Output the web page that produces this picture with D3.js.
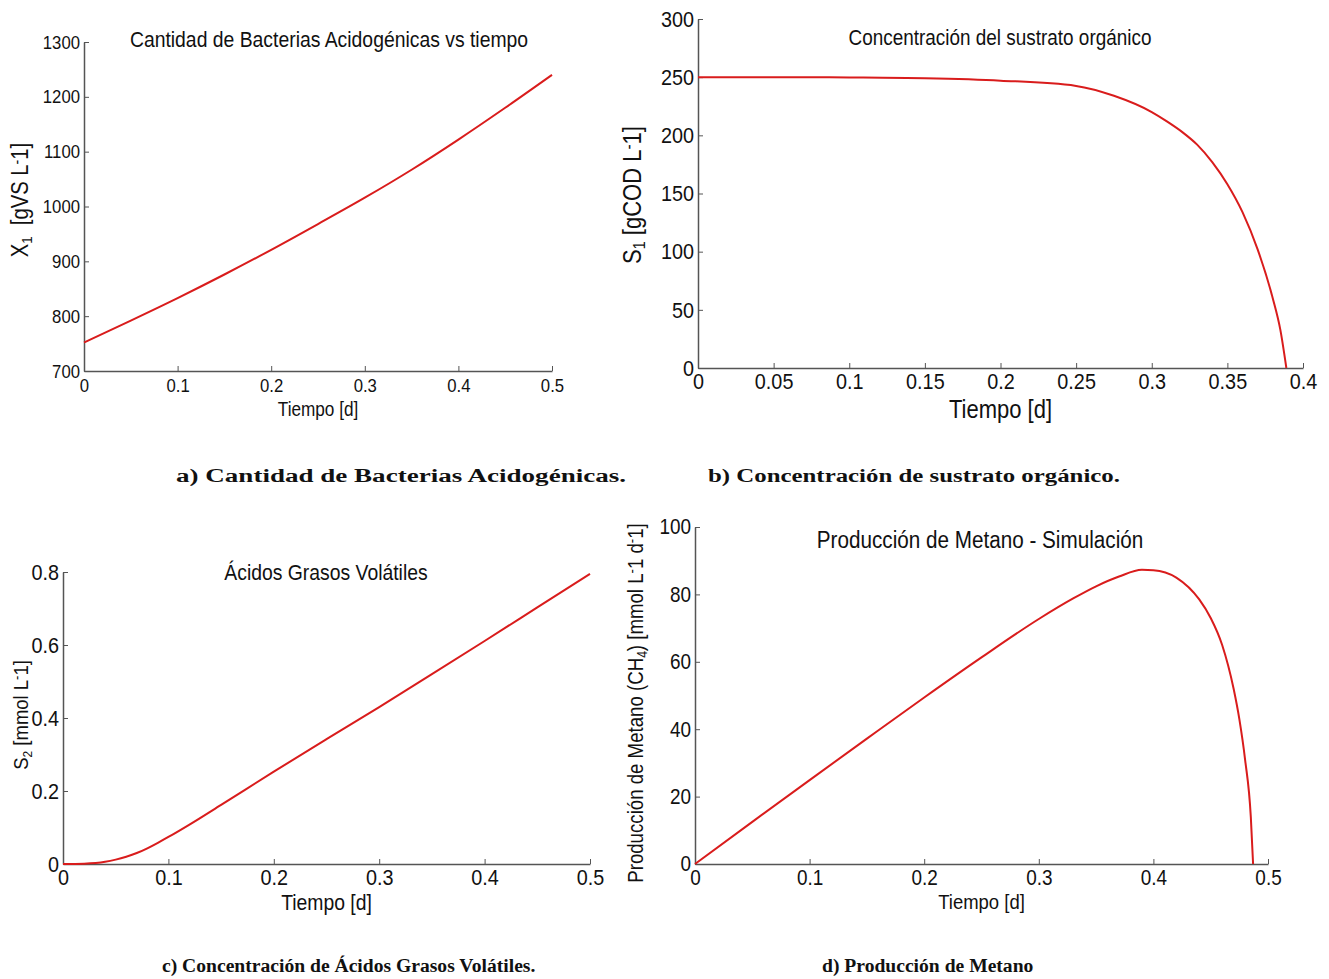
<!DOCTYPE html>
<html>
<head>
<meta charset="utf-8">
<script src="https://cdn.jsdelivr.net/npm/d3@7"></script>
<style>
  body { margin: 0; background: #fff; }
  svg text { font-family: "Liberation Sans", Arial, sans-serif; fill: #111; }
  .caption { font-family: "Liberation Serif", "Times New Roman", serif; font-weight: bold; font-size: 19.6px; }
</style>
</head>
<body>
<div id="graphic"></div>
<script>
// data
// a) acidogenic bacteria X1
const tA = [0, 0.05, 0.1, 0.15, 0.2, 0.25, 0.3, 0.35, 0.4, 0.45, 0.5];
const xA = [752, 792, 833, 876, 921, 968, 1016, 1067, 1122, 1180, 1240];
// b) organic substrate S1
const tB = [0, 0.05, 0.1, 0.15, 0.2, 0.25, 0.275, 0.3, 0.31, 0.32, 0.33, 0.34, 0.35, 0.36, 0.37, 0.38, 0.385, 0.389];
const sB = [250, 250, 249.7, 249, 247, 242.5, 234, 220, 212, 203, 192, 177, 158, 134, 102, 60, 33, 0];
// c) volatile fatty acids S2
const tC = [0, 0.02, 0.04, 0.05, 0.06, 0.07, 0.08, 0.09, 0.1, 0.12, 0.15, 0.2, 0.25, 0.3, 0.35, 0.4, 0.45, 0.5];
const sC = [0, 0.001, 0.006, 0.012, 0.02, 0.03, 0.043, 0.058, 0.074, 0.108, 0.162, 0.253, 0.342, 0.43, 0.52, 0.611, 0.703, 0.795];
// d) methane production
const tD = [0, 0.05, 0.1, 0.15, 0.2, 0.25, 0.3, 0.33, 0.35, 0.37, 0.39, 0.4, 0.42, 0.44, 0.45, 0.46, 0.47, 0.475, 0.48, 0.485, 0.487];
const mD = [0, 12.5, 24.9, 37.2, 49.4, 61.3, 72.7, 78.8, 82.4, 85.3, 87.3, 87.2, 85, 78.5, 73, 65, 52, 43, 31, 14, 0];

const ticksA = [700, 800, 900, 1000, 1100, 1200, 1300];
const ticksB = [0, 50, 100, 150, 200, 250, 300];
const ticksC = [0, 0.2, 0.4, 0.6, 0.8];
const ticksD = [0, 20, 40, 60, 80, 100];

const svg = d3.select("#graphic")
    .append("svg")
    .attr("width", 1329)
    .attr("height", 979);

const red = "#d91c1c";
const condense = 0.88; // the figure text is a bit narrow

function drawPanel(p) {
    const x = d3.scaleLinear().domain(p.xDomain).range([p.left, p.right]);
    const y = d3.scaleLinear().domain(p.yDomain).range([p.bottom, p.top]);
    const g = svg.append("g").attr("class", "panel");

    // x axis (MATLAB style, ticks pointing inward)
    g.append("g")
        .attr("transform", `translate(0, ${p.bottom})`)
        .call(d3.axisBottom(x).tickValues(p.xTicks).tickSizeInner(-5).tickSizeOuter(0)
            .tickPadding(p.tickPad).tickFormat(d => d3.format("~g")(d)))
        .call(a => a.select(".domain").attr("stroke", "#555").attr("stroke-width", 1.5))
        .call(a => a.selectAll("line").attr("stroke", "#555"))
        .call(a => a.selectAll("text").style("font-size", p.tickFont + "px").attr("fill", "#111"));

    g.append("g")
        .attr("transform", `translate(${p.left}, 0)`)
        .call(d3.axisLeft(y).tickValues(p.yTicks).tickSizeInner(-5).tickSizeOuter(0)
            .tickPadding(4).tickFormat(d => d3.format("~g")(d)))
        .call(a => a.select(".domain").attr("stroke", "#555").attr("stroke-width", 1.5))
        .call(a => a.selectAll("line").attr("stroke", "#555"))
        .call(a => a.selectAll("text").style("font-size", p.tickFont + "px").attr("fill", "#111"));

    g.append("path")
        .datum(p.xs.map((d, i) => [d, p.ys[i]]))
        .attr("fill", "none")
        .attr("stroke", red)
        .attr("stroke-width", 2)
        .attr("d", d3.line()
            .x(d => x(d[0]))
            .y(d => y(d[1]))
            .curve(d3.curveMonotoneX));

    // title inside the axes
    g.append("text")
        .attr("x", p.titleX)
        .attr("y", p.titleY)
        .attr("text-anchor", "middle")
        .style("font-size", p.titleFont + "px")
        .text(p.title);

    g.append("text")
        .attr("x", (p.left + p.right) / 2)
        .attr("y", p.xLabelY)
        .attr("text-anchor", "middle")
        .style("font-size", p.xLabelFont + "px")
        .text("Tiempo [d]");

    // rotated y label with sub / superscripts
    const yl = g.append("text")
        .attr("transform", `translate(${p.yLabelX}, ${p.yLabelY}) rotate(-90)`)
        .attr("text-anchor", "middle")
        .style("white-space", "pre")
        .style("font-size", p.yLabelFont + "px");
    p.yLabel.forEach(part => {
        const ts = yl.append("tspan").text(part.t);
        if (part.sub) ts.attr("dy", 4).style("font-size", (p.yLabelFont * 0.65) + "px");
        if (part.back) ts.attr("dy", part.back);
        if (part.sup) ts.attr("dy", -6).style("font-size", (p.yLabelFont * 0.7) + "px");
    });

    const cap = svg.append("text")
        .attr("class", "caption")
        .attr("x", p.capX)
        .attr("y", p.capY)
        .text(p.caption);
    // the top caption line comes out wider in the document
    if (p.capWidth) cap.attr("textLength", p.capWidth).attr("lengthAdjust", "spacingAndGlyphs");
}

drawPanel({
    xDomain: [0, 0.5], yDomain: [700, 1300], left: 84, right: 552, top: 42, bottom: 371,
    xTicks: [0, 0.1, 0.2, 0.3, 0.4, 0.5], yTicks: ticksA, xs: tA, ys: xA, tickFont: 19, tickPad: 8,
    title: "Cantidad de Bacterias Acidogénicas vs tiempo", titleX: 329, titleY: 47, titleFont: 22,
    xLabelY: 416, xLabelFont: 19.5,
    yLabel: [{t: "X"}, {t: "1", sub: true}, {t: "  [gVS L", back: -4}, {t: "-", sup: true}, {t: "1]", back: 6}],
    yLabelX: 28, yLabelY: 200, yLabelFont: 23,
    caption: "a) Cantidad de Bacterias Acidogénicas.", capX: 176, capY: 482, capWidth: 450
});

drawPanel({
    xDomain: [0, 0.4], yDomain: [0, 300], left: 698, right: 1303, top: 19, bottom: 368,
    xTicks: [0, 0.05, 0.1, 0.15, 0.2, 0.25, 0.3, 0.35, 0.4], yTicks: ticksB, xs: tB, ys: sB, tickFont: 22.5, tickPad: 5,
    title: "Concentración del sustrato orgánico", titleX: 1000, titleY: 45, titleFont: 21.5,
    xLabelY: 418, xLabelFont: 25,
    yLabel: [{t: "S"}, {t: "1", sub: true}, {t: " [gCOD L", back: -4}, {t: "-", sup: true}, {t: "1]", back: 6}],
    yLabelX: 641, yLabelY: 195, yLabelFont: 25,
    caption: "b) Concentración de sustrato orgánico.", capX: 708, capY: 482, capWidth: 412
});

drawPanel({
    xDomain: [0, 0.5], yDomain: [0, 0.8], left: 63, right: 590, top: 572, bottom: 864,
    xTicks: [0, 0.1, 0.2, 0.3, 0.4, 0.5], yTicks: ticksC, xs: tC, ys: sC, tickFont: 22.5, tickPad: 5,
    title: "Ácidos Grasos Volátiles", titleX: 326, titleY: 580, titleFont: 22,
    xLabelY: 910, xLabelFont: 22,
    yLabel: [{t: "S"}, {t: "2", sub: true}, {t: " [mmol L", back: -4}, {t: "-", sup: true}, {t: "1]", back: 6}],
    yLabelX: 28, yLabelY: 715, yLabelFont: 21,
    caption: "c) Concentración de Ácidos Grasos Volátiles.", capX: 162, capY: 972
});

drawPanel({
    xDomain: [0, 0.5], yDomain: [0, 100], left: 695, right: 1268, top: 527, bottom: 864,
    xTicks: [0, 0.1, 0.2, 0.3, 0.4, 0.5], yTicks: ticksD, xs: tD, ys: mD, tickFont: 21.5, tickPad: 6,
    title: "Producción de Metano - Simulación", titleX: 980, titleY: 548, titleFont: 23.5,
    xLabelY: 909, xLabelFont: 21,
    yLabel: [{t: "Producción de Metano (CH"}, {t: "4", sub: true}, {t: ") [mmol L", back: -4}, {t: "-", sup: true},
             {t: "1 d", back: 6}, {t: "-", sup: true}, {t: "1]", back: 6}],
    yLabelX: 643, yLabelY: 703, yLabelFont: 21.2,
    caption: "d) Producción de Metano", capX: 822, capY: 972
});

// squeeze the sans-serif figure text horizontally
svg.selectAll(".panel text").each(function() {
    const len = this.getComputedTextLength();
    this.setAttribute("textLength", len * condense);
    this.setAttribute("lengthAdjust", "spacingAndGlyphs");
});
</script>
</body>
</html>
